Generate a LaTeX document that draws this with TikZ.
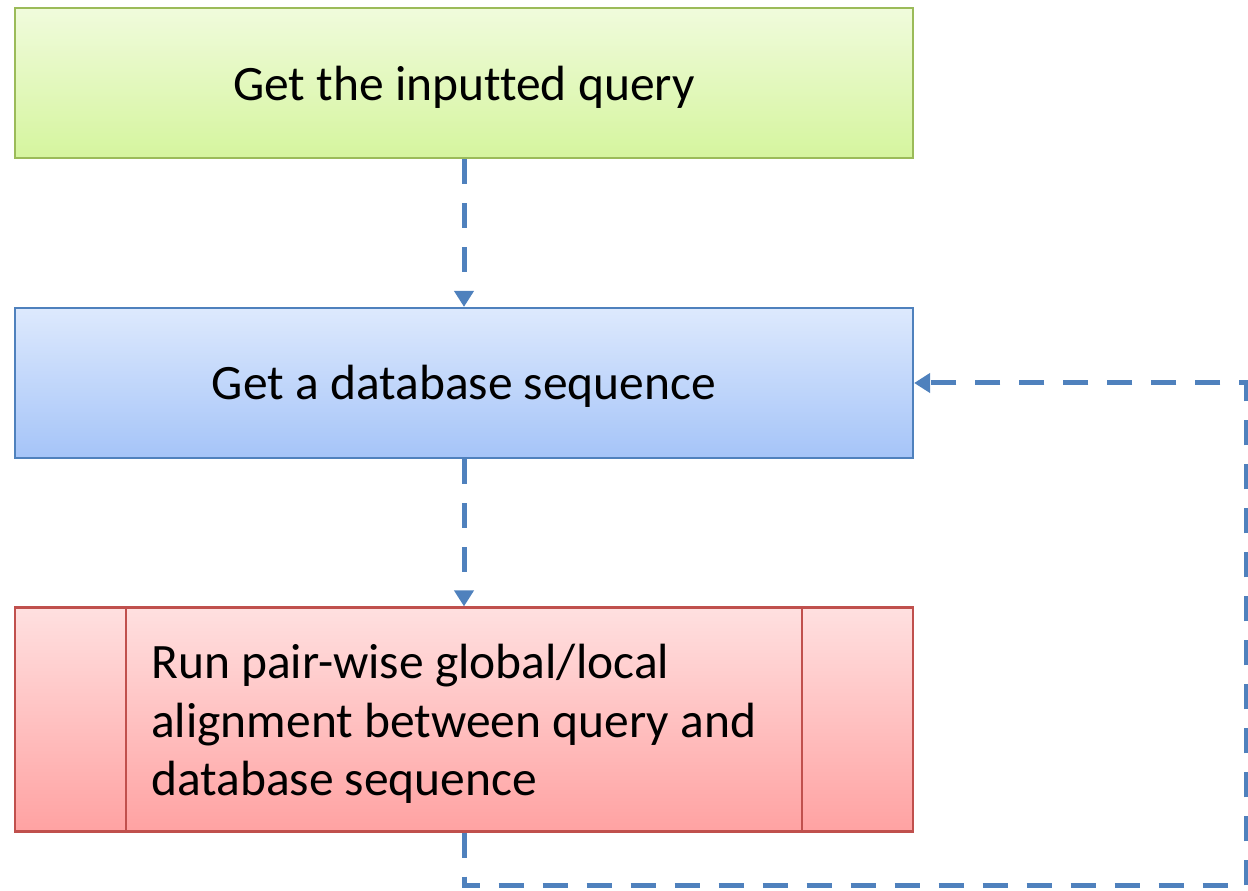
\documentclass[tikz,border=0pt]{standalone}
\usepackage{fontspec}
\setmainfont{Carlito}[Ligatures={NoCommon}]
\usetikzlibrary{arrows.meta}
\definecolor{gfill1}{HTML}{F0FBDC}
\definecolor{gfill2}{HTML}{D5F59E}
\definecolor{gline}{HTML}{9BBB59}
\definecolor{bfill1}{HTML}{DDE9FD}
\definecolor{bfill2}{HTML}{A5C4F8}
\definecolor{bline}{HTML}{4F81BD}
\definecolor{rfill1}{HTML}{FFE0E0}
\definecolor{rfill2}{HTML}{FFA2A2}
\definecolor{rline}{HTML}{C0504D}
\definecolor{arr}{HTML}{4F81BD}
\tikzset{
  x=1pt,y=1pt,
  bigfont/.style={font=\fontsize{49.5}{58.5}\selectfont},
  box/.style={rectangle, minimum width=898pt, line width=2.2pt, inner sep=0pt},
  txt/.style={bigfont, inner sep=0pt},
  flow/.style={draw=arr, line width=5pt, dash pattern=on 25pt off 19pt,
    -{Triangle[width=19pt,length=16pt]}},
}
\begin{document}
\begin{tikzpicture}
\useasboundingbox (0,0) rectangle (1248,891);
\node[box, minimum height=150pt, draw=gline, top color=gfill1, bottom color=gfill2] (g) at (464,808) {};
\node[txt] (gt) at ([yshift=-4pt]g.center) {Get the inputted query};
\node[box, minimum height=150pt, draw=bline, top color=bfill1, bottom color=bfill2] (b) at (464,508) {};
\node[txt] (bt) at ([yshift=-3pt]b.center) {Get a database sequence};
\node[box, minimum height=224pt, draw=rline, top color=rfill1, bottom color=rfill2] (r) at (464,171.5) {};
\node[txt, anchor=west, align=left] (rt) at (151,167) {Run pair-wise global/local\\alignment between query and\\database sequence};
\draw[rline, line width=2.2pt] ([xshift=112pt]r.north west) -- ([xshift=112pt]r.south west);
\draw[rline, line width=2.2pt] ([xshift=-112pt]r.north east) -- ([xshift=-112pt]r.south east);
\coordinate (c1) at (464,5);
\coordinate (c2) at (1246,5);
\draw[flow] (g.south) -- (b.north);
\draw[flow] (b.south) -- (r.north);
\draw[flow] (r.south) -- (c1) -- (c2) |- (b.east);
\end{tikzpicture}
\end{document}
